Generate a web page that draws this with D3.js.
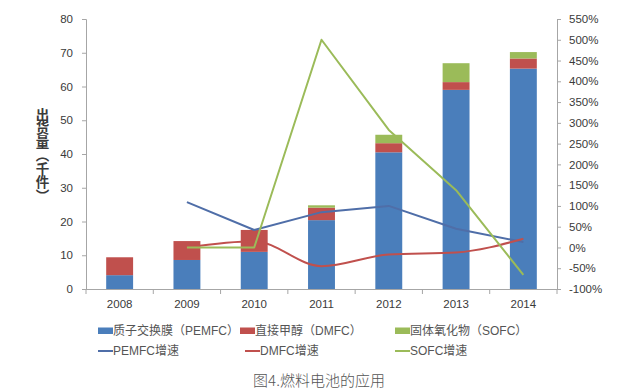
<!DOCTYPE html>
<html><head><meta charset="utf-8">
<script src="https://cdn.jsdelivr.net/npm/d3@7"></script>
<style>
html,body{margin:0;padding:0;background:#fff;}
svg{display:block;}
</style></head>
<body>
<svg id="c" width="632" height="391"></svg>
<script>
const years = ["2008","2009","2010","2011","2012","2013","2014"];
const pemfc = [4.1, 8.6, 11.0, 20.4, 40.5, 59.0, 65.3];
const dmfc  = [5.3, 5.6, 6.5, 3.7, 2.7, 2.3, 3.0];
const sofc  = [0, 0, 0, 0.7, 2.5, 5.6, 1.9];
const pemfcGrowth = [null, 109, 42, 85, 100, 45, 13];
const dmfcGrowth  = [null, 0, 15, -45, -17, -12, 21];
const sofcGrowth  = [null, 0, 0, 500, 283, 138, -66];
const leftTicks = [0,10,20,30,40,50,60,70,80];
const rightTicks = [-100,-50,0,50,100,150,200,250,300,350,400,450,500,550];
const barNames = ["质子交换膜（PEMFC）","直接甲醇（DMFC）","固体氧化物（SOFC）"];
const lineNames = ["PEMFC增速","DMFC增速","SOFC增速"];
const yTitle = "出货量（千件）";
const caption = "图4.燃料电池的应用";

const barColors = ["#4a7ebb","#c0504d","#9bbb59"];
const lineColors = ["#4f6ea8","#c0504d","#9bbb59"];
const axisColor = "#a6a6a6";
const textColor = "#3a3a3a";

const svg = d3.select("#c");
const L = 86, R = 557, T = 19, B = 289;

const x = d3.scaleBand().domain(years).range([L, R]).padding(0);
const yL = d3.scaleLinear().domain([0, 80]).range([B, T]);
const yR = d3.scaleLinear().domain([-100, 550]).range([B, T]);

// stacked bars
const rows = years.map((y,i)=>({year:y, a:pemfc[i], b:dmfc[i], c:sofc[i]}));
const stack = d3.stack().keys(["a","b","c"])(rows);
const bw = x.bandwidth()*0.4;
svg.append("g").selectAll("g").data(stack).join("g")
  .attr("fill",(d,i)=>barColors[i])
  .selectAll("rect").data(d=>d).join("rect")
  .attr("x", d=>x(d.data.year)+x.bandwidth()/2-bw/2)
  .attr("width", bw)
  .attr("y", d=>yL(d[1]))
  .attr("height", d=>Math.max(0, yL(d[0])-yL(d[1])));

// axes
const gL = svg.append("g").attr("transform",`translate(${L},0)`)
  .call(d3.axisLeft(yL).tickValues(leftTicks).tickSize(4).tickPadding(9));
const gR = svg.append("g").attr("transform",`translate(${R},0)`)
  .call(d3.axisRight(yR).tickValues(rightTicks).tickSize(4).tickPadding(8).tickFormat(d=>d+"%"));
const gB = svg.append("g").attr("transform",`translate(0,${B})`)
  .call(d3.axisBottom(x).tickSize(0).tickPadding(11));
gB.selectAll("line.bt").data(d3.range(years.length+1)).join("line")
  .attr("class","bt")
  .attr("x1",i=>L+i*x.bandwidth()).attr("x2",i=>L+i*x.bandwidth())
  .attr("y1",0).attr("y2",5).attr("stroke",axisColor);
[gL,gR,gB].forEach(g=>{
  g.select(".domain").attr("stroke",axisColor);
  g.selectAll(".tick line").attr("stroke",axisColor);
  g.selectAll("text").attr("fill",textColor).attr("font-size","11.5px")
   .attr("font-family","Liberation Sans, sans-serif");
});
gB.select(".domain").attr("d",`M${L},0.5H${R}`);

// growth lines
const cx = d=>x(d.year)+x.bandwidth()/2;
const series = [pemfcGrowth, dmfcGrowth, sofcGrowth];
const curves = [d3.curveLinear, d3.curveMonotoneX, d3.curveLinear];
series.forEach((s,k)=>{
  const pts = years.map((y,i)=>({year:y, v:s[i]})).filter(d=>d.v!==null);
  svg.append("path").datum(pts)
    .attr("fill","none").attr("stroke",lineColors[k]).attr("stroke-width",2)
    .attr("stroke-linejoin","round")
    .attr("d", d3.line().x(cx).y(d=>yR(d.v)).curve(curves[k]));
});

// y title, vertical writing
svg.append("text")
  .attr("x",42.5).attr("y",155)
  .attr("text-anchor","middle")
  .style("writing-mode","vertical-rl")
  .style("text-orientation","upright")
  .style("font-family","'Noto Sans CJK SC'")
  .style("font-size","13.5px").style("font-weight","bold")
  .attr("fill",textColor)
  .text(yTitle);

// legend
const lg = svg.append("g").attr("font-family","Liberation Sans, Noto Sans CJK SC")
  .attr("font-size","12px").attr("fill","#555");
const sw1 = [98, 240, 395];
barNames.forEach((n,i)=>{
  lg.append("rect").attr("x",sw1[i]).attr("y",327.5).attr("width",15).attr("height",6.5).attr("fill",barColors[i]);
  lg.append("text").attr("x",sw1[i]+15).attr("y",331).attr("dy","0.35em").text(n);
});
const sw2 = [98, 245, 395];
lineNames.forEach((n,i)=>{
  lg.append("line").attr("x1",sw2[i]).attr("x2",sw2[i]+15).attr("y1",351).attr("y2",351)
    .attr("stroke",lineColors[i]).attr("stroke-width",2);
  lg.append("text").attr("x",sw2[i]+15).attr("y",351).attr("dy","0.35em").text(n);
});

// caption
svg.append("text").attr("x",319).attr("y",381).attr("dy","0.35em")
  .attr("text-anchor","middle").attr("font-family","Noto Sans CJK SC")
  .attr("font-size","15px").attr("font-weight","300").attr("fill","#555")
  .text(caption);
</script>
</body></html>
